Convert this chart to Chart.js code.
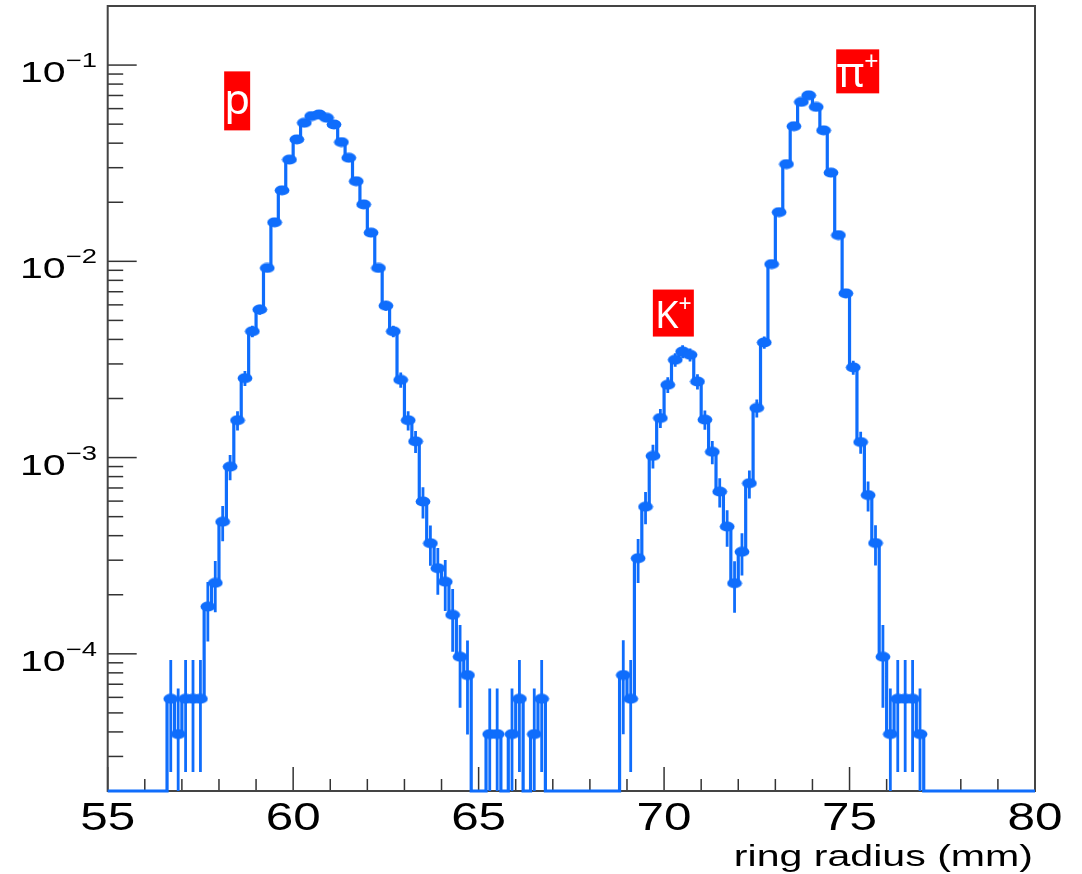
<!DOCTYPE html>
<html>
<head>
<meta charset="utf-8">
<title>Ring radius distribution</title>
<script src="https://cdn.jsdelivr.net/npm/chart.js@4.4.1/dist/chart.umd.min.js"></script>
<style>
  html, body { margin: 0; padding: 0; background: #ffffff; }
  #wrap { width: 1082px; height: 874px; position: relative; }
  canvas { display: block; }
</style>
</head>
<body>
<div id="wrap"><canvas id="chart" width="1082" height="874"></canvas></div>
<script>
// ---- Histogram definition -------------------------------------------------
const X_MIN = 55;          // mm
const X_MAX = 80;          // mm
const BIN_WIDTH = 0.2;     // mm
const Y_MIN = 2e-5;
const Y_MAX = 0.2;

// Normalised content of each 0.2 mm bin, first bin starting at 55 mm
const binContents = [
  0, 0, 0, 0, 0, 0, 0, 0, 5.9e-5, 3.9e-5,
  5.9e-5, 5.9e-5, 5.9e-5, 1.74e-4, 2.30e-4, 4.71e-4, 8.99e-4, 1.55e-3, 2.54e-3, 4.40e-3,
  5.68e-3, 9.25e-3, 1.58e-2, 2.30e-2, 3.30e-2, 4.18e-2, 5.08e-2, 5.50e-2, 5.60e-2, 5.39e-2,
  4.98e-2, 4.05e-2, 3.37e-2, 2.56e-2, 1.95e-2, 1.40e-2, 9.25e-3, 5.94e-3, 4.40e-3, 2.49e-3,
  1.55e-3, 1.21e-3, 5.97e-4, 3.66e-4, 2.73e-4, 2.33e-4, 1.58e-4, 9.66e-5, 7.79e-5, 0,
  0, 3.9e-5, 3.9e-5, 0, 3.9e-5, 5.9e-5, 0, 3.9e-5, 5.9e-5, 0,
  0, 0, 0, 0, 0, 0, 0, 0, 0, 7.8e-5,
  5.9e-5, 3.07e-4, 5.62e-4, 1.02e-3, 1.59e-3, 2.35e-3, 3.15e-3, 3.47e-3, 3.34e-3, 2.44e-3,
  1.56e-3, 1.07e-3, 6.71e-4, 4.45e-4, 2.29e-4, 3.31e-4, 7.40e-4, 1.79e-3, 3.86e-3, 9.68e-3,
  1.78e-2, 3.13e-2, 4.88e-2, 6.49e-2, 7.01e-2, 6.12e-2, 4.65e-2, 2.83e-2, 1.36e-2, 6.87e-3,
  2.88e-3, 1.20e-3, 6.44e-4, 3.67e-4, 9.66e-5, 3.9e-5, 5.9e-5, 5.9e-5, 5.9e-5, 3.9e-5,
  0, 0, 0, 0, 0, 0, 0, 0, 0, 0,
  0, 0, 0, 0, 0
];

// Weight carried by one entry; the error on a bin is sqrt(N) entries
const ENTRY_WEIGHT = 1.96e-5;

// Axis labelling
const xTickValues = [55, 60, 65, 70, 75, 80];
const xTickLabels = ['55', '60', '65', '70', '75', '80'];
const yDecadeExponents = [-4, -3, -2, -1];
const xAxisTitle = 'ring radius (mm)';

// Particle tags placed next to each peak (x in mm, y in content units)
const peakTags = [
  { text: 'p', sup: '',  x: 58.49, y: 0.0657, w: 26, h: 59, font: 42, base: 43 },
  { text: 'K', sup: '+', x: 70.25, y: 5.45e-3, w: 41, h: 47, font: 38, base: 38 },
  { text: '\u03C0', sup: '+', x: 75.22, y: 0.0929, w: 43, h: 44, font: 42, base: 38 }
];

// ---- Styling ----------------------------------------------------------------
const BLUE = '#0f6dfc';
const AXIS_COLOR = '#333333';
const TEXT_FONT = '"Liberation Sans", Arial, Helvetica, sans-serif';
const TAG_FONT = '"Noto Sans", "Open Sans", sans-serif';
const SX = 1.37;    // horizontal stretch of the axis typography
const SX_X = 1.3;   // stretch used for the x-axis numbers

// ---- Derived series -----------------------------------------------------------
const nBins = binContents.length;
// Step outline: one point per lower bin edge plus the closing upper edge
const stepPoints = binContents.map((v, i) => ({ x: X_MIN + i * BIN_WIDTH, y: Math.max(v, Y_MIN) }));
stepPoints.push({ x: X_MAX, y: Math.max(binContents[nBins - 1], Y_MIN) });
// Markers at bin centres for filled bins
const markerPoints = [];
binContents.forEach((v, i) => {
  if (v > 0) markerPoints.push({ x: X_MIN + (i + 0.5) * BIN_WIDTH, y: v });
});

// Elliptical marker sprite
const dot = document.createElement('canvas');
dot.width = 16; dot.height = 11;
(function () {
  const g = dot.getContext('2d');
  g.fillStyle = BLUE;
  g.beginPath();
  g.ellipse(8, 5.5, 7.4, 5.1, 0, 0, Math.PI * 2);
  g.fill();
})();

function stretchedText(ctx, text, x, y, font, align, sx) {
  ctx.save();
  ctx.font = font;
  ctx.textAlign = align;
  ctx.textBaseline = 'alphabetic';
  ctx.translate(x, y);
  ctx.scale(sx || SX, 1);
  ctx.fillText(text, 0, 0);
  ctx.restore();
}

// Frame and inward tick marks (drawn underneath the histogram)
const framePlugin = {
  id: 'frame',
  beforeDatasetsDraw(chart) {
    const { ctx, chartArea: a, scales: { x, y } } = chart;
    ctx.save();
    ctx.strokeStyle = AXIS_COLOR;
    ctx.lineWidth = 1.5;
    // x ticks: major every 5 mm, minor every 1 mm
    for (let v = X_MIN; v <= X_MAX + 1e-9; v += 1) {
      const px = x.getPixelForValue(v);
      const major = Math.abs((v - X_MIN) % 5) < 1e-9;
      const len = major ? 24 : 12;
      ctx.beginPath();
      ctx.moveTo(px, a.bottom);
      ctx.lineTo(px, a.bottom - len);
      ctx.stroke();
    }
    // y ticks: decades and 2..9 sub-divisions
    for (let e = -5; e <= 0; e++) {
      for (let m = 1; m <= 9; m++) {
        const v = m * Math.pow(10, e);
        if (v < Y_MIN * 0.999 || v > Y_MAX * 1.001) continue;
        const py = y.getPixelForValue(v);
        const len = m === 1 ? 29 : 15.5;
        ctx.beginPath();
        ctx.moveTo(a.left, py);
        ctx.lineTo(a.left + len, py);
        ctx.stroke();
      }
    }
    ctx.lineWidth = 2;
    ctx.strokeStyle = '#444444';
    ctx.strokeRect(a.left, a.top, a.right - a.left, a.bottom - a.top);
    ctx.restore();
  }
};

// Poisson error bars, drawn right after the step outline
const errorBarPlugin = {
  id: 'errorBars',
  afterDatasetDraw(chart, args) {
    if (args.index !== 0) return;
    const { ctx, chartArea: a, scales: { x, y } } = chart;
    ctx.save();
    ctx.beginPath();
    ctx.rect(a.left, a.top, a.right - a.left, a.bottom - a.top);
    ctx.clip();
    ctx.strokeStyle = BLUE;
    ctx.lineWidth = 2.8;
    binContents.forEach((v, i) => {
      if (v <= 0) return;
      const err = Math.sqrt(v * ENTRY_WEIGHT);
      const px = x.getPixelForValue(X_MIN + (i + 0.5) * BIN_WIDTH);
      const top = y.getPixelForValue(v + err);
      const lo = v - err;
      const bottom = lo > 0 ? y.getPixelForValue(lo) : a.bottom + 5;
      ctx.beginPath();
      ctx.moveTo(px, top);
      ctx.lineTo(px, bottom);
      ctx.stroke();
    });
    ctx.restore();
  }
};

// Axis numbers, axis title and peak tags
const labelPlugin = {
  id: 'labels',
  afterDraw(chart) {
    const { ctx, chartArea: a, scales: { x, y } } = chart;
    ctx.save();
    ctx.fillStyle = '#000000';
    xTickValues.forEach((v, k) => {
      stretchedText(ctx, xTickLabels[k], x.getPixelForValue(v), a.bottom + 39, '38px ' + TEXT_FONT, 'center', SX_X);
    });
    yDecadeExponents.forEach(e => {
      const py = y.getPixelForValue(Math.pow(10, e));
      const sup = '\u2212' + Math.abs(e);
      ctx.font = '20px ' + TEXT_FONT;
      const supInk = ctx.measureText(sup).actualBoundingBoxRight * SX;
      const supX = 96.7 - supInk;
      ctx.font = '30px ' + TEXT_FONT;
      const mantW = ctx.measureText('10').width * SX;
      stretchedText(ctx, '10', supX - mantW, py + 17, '30px ' + TEXT_FONT, 'left');
      stretchedText(ctx, sup, supX, py + 2, '20px ' + TEXT_FONT, 'left');
    });
    stretchedText(ctx, xAxisTitle, a.right - 2, a.bottom + 75, '30px ' + TEXT_FONT, 'right');

    peakTags.forEach(t => {
      const cx = x.getPixelForValue(t.x);
      const cy = y.getPixelForValue(t.y);
      const left = cx - t.w / 2, top = cy - t.h / 2;
      ctx.fillStyle = '#ff0000';
      ctx.fillRect(left, top, t.w, t.h);
      ctx.fillStyle = '#ffffff';
      ctx.textBaseline = 'alphabetic';
      ctx.font = t.font + 'px ' + TAG_FONT;
      const wMain = ctx.measureText(t.text).width;
      ctx.font = Math.round(t.font * 0.6) + 'px ' + TAG_FONT;
      const wSup = t.sup ? ctx.measureText(t.sup).width : 0;
      const startX = cx - (wMain + wSup) / 2;
      ctx.font = t.font + 'px ' + TAG_FONT;
      ctx.textAlign = 'left';
      ctx.fillText(t.text, startX, top + t.base);
      if (t.sup) {
        ctx.font = Math.round(t.font * 0.6) + 'px ' + TAG_FONT;
        ctx.fillText(t.sup, startX + wMain, top + t.base - t.font * 0.42);
      }
    });
    ctx.restore();
  }
};

new Chart(document.getElementById('chart'), {
  type: 'line',
  data: {
    datasets: [
      {
        label: 'outline',
        data: stepPoints,
        stepped: true,
        borderColor: BLUE,
        borderWidth: 3.2,
        pointRadius: 0,
        fill: false,
        clip: false,
        order: 1
      },
      {
        label: 'entries',
        data: markerPoints,
        showLine: false,
        pointStyle: dot,
        pointRadius: 5,
        pointHoverRadius: 5,
        order: 0
      }
    ]
  },
  options: {
    responsive: false,
    animation: false,
    devicePixelRatio: 1,
    layout: { padding: { left: 107.7, right: 47, top: 6, bottom: 83 } },
    scales: {
      x: { type: 'linear', min: X_MIN, max: X_MAX, bounds: 'data', display: false },
      y: { type: 'logarithmic', min: Y_MIN, max: Y_MAX, bounds: 'data', display: false }
    },
    plugins: {
      legend: { display: false },
      tooltip: { enabled: false }
    },
    events: []
  },
  plugins: [framePlugin, errorBarPlugin, labelPlugin]
});
</script>
</body>
</html>
